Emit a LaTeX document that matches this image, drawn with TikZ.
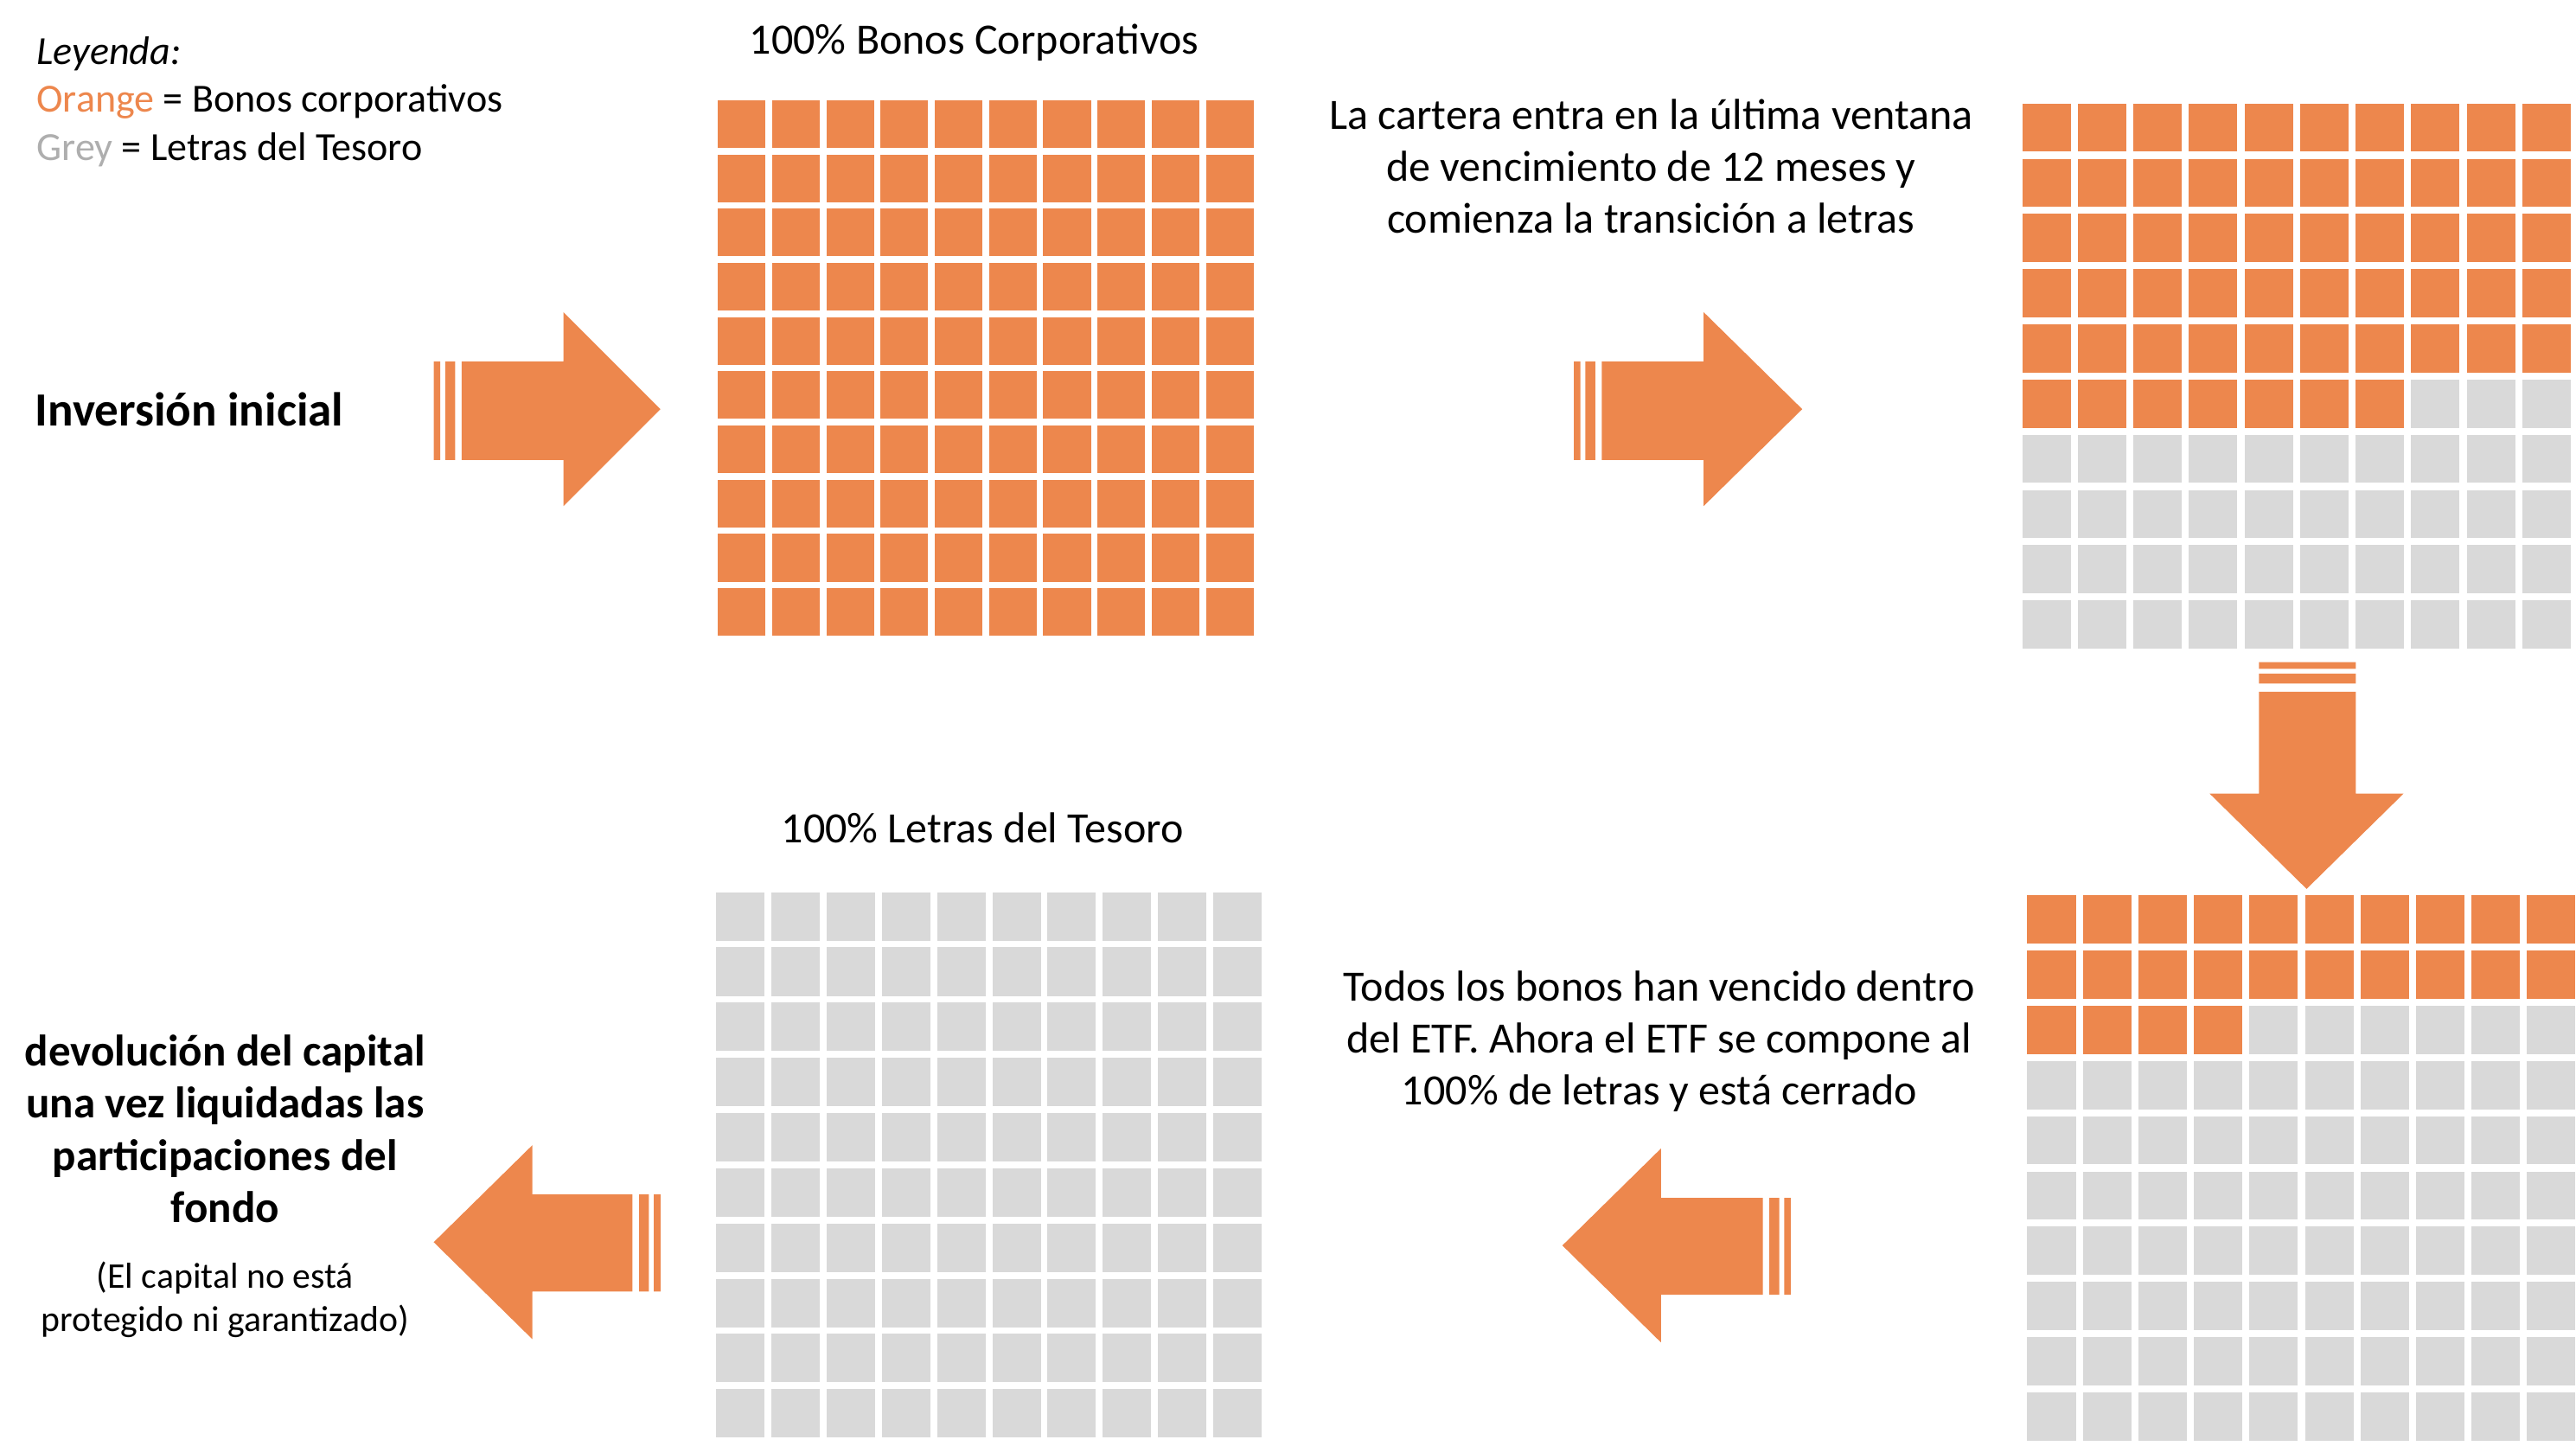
\documentclass[tikz,border=0pt]{standalone}
\usepackage{fontspec}
\setmainfont{Carlito}
\definecolor{org}{HTML}{ED874D}
\definecolor{gry}{HTML}{D9D9D9}
\begin{document}
\begin{tikzpicture}[x=0.02cm,y=-0.02cm,
  txt/.style={font=\fontsize{15pt}{18pt}\selectfont,inner sep=0pt},
  leg/.style={font=\fontsize{13.8pt}{18pt}\selectfont,inner sep=0pt,anchor=west},
  bld/.style={font=\fontsize{15.3pt}{18pt}\selectfont\bfseries,inner sep=0pt,align=center},
  sml/.style={font=\fontsize{12.5pt}{15pt}\selectfont,inner sep=0pt,align=center},
  arr/.style={fill=org,draw=none}]
\useasboundingbox (0,0) rectangle (1568,880);
\newcommand\mygrid[6]{%
 \foreach \r in {0,...,9}{\foreach \c in {0,...,9}{%
   \pgfmathtruncatemacro\idx{\r*10+\c}%
   \ifnum\idx<#5\def\cl{org}\else\def\cl{gry}\fi
   \fill[\cl] ({#1+\c*#3},{#2+\r*#6}) rectangle ++(#4,{#6-(#3-#4)});}}}
\mygrid{437}{61}{33}{29}{100}{33}
\mygrid{1231}{63}{33.8}{29.5}{57}{33.6}
\mygrid{1234}{545}{33.8}{29.5}{24}{33.6}
\mygrid{436}{543}{33.6}{29.5}{0}{33.6}
\fill[arr] (264,220) rectangle (268,280) (271,220) rectangle (277,280)
  (281,220) -- (343,220) -- (343,190) -- (402,249) -- (343,308) -- (343,280) -- (281,280) -- cycle;
\fill[arr] (958,220) rectangle (962,280) (965,220) rectangle (971,280)
  (975,220) -- (1037,220) -- (1037,190) -- (1097,249) -- (1037,308) -- (1037,280) -- (975,280) -- cycle;
\fill[arr] (1375,403) rectangle (1434,407) (1375,410) rectangle (1434,416)
  (1375,421) -- (1375,483) -- (1345,483) -- (1404,541) -- (1463,483) -- (1434,483) -- (1434,421) -- cycle;
\fill[arr] (402,727) rectangle (398,786) (395,727) rectangle (389,786)
  (385,727) -- (324,727) -- (324,697) -- (264,756) -- (324,815) -- (324,786) -- (385,786) -- cycle;
\fill[arr] (1090,729) rectangle (1086,788) (1083,729) rectangle (1077,788)
  (1073,729) -- (1011,729) -- (1011,699) -- (951,758) -- (1011,817) -- (1011,788) -- (1073,788) -- cycle;
\node[leg] (legt) at (22,33) {\itshape Leyenda:};
\node[leg] (lo) at (22,62) {\textcolor{org}{Orange} = Bonos corporativos};
\node[leg] (lg) at (22,91) {\textcolor{gry!80!black}{Grey} = Letras del Tesoro};
\node[txt] (t1) at (593,26) {100\% Bonos Corporativos};
\node[txt,align=center] (t2) at (1005,101) {La cartera entra en la última ventana\\de vencimiento de 12 meses y\\comienza la transición a letras};
\node[bld,anchor=west,font=\fontsize{16.5pt}{18pt}\selectfont\bfseries] (inv) at (21,249) {Inversión inicial};
\node[txt] (t3) at (598,504) {100\% Letras del Tesoro};
\node[txt,align=center] (t4) at (1010,634) {Todos los bonos han vencido dentro\\del ETF. Ahora el ETF se compone al\\100\% de letras y está cerrado};
\node[bld] (dev) at (137,687) {devolución del capital\\una vez liquidadas las\\participaciones del\\fondo};
\node[sml] (nota) at (137,791) {(El capital no está\\protegido ni garantizado)};
\end{tikzpicture}
\end{document}
